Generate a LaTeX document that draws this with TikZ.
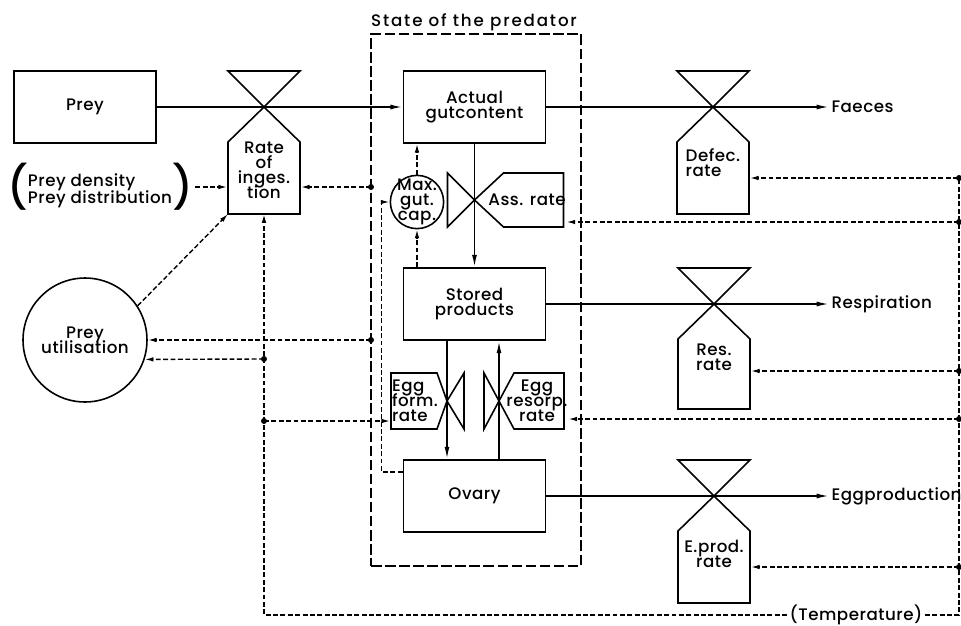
\documentclass[tikz,border=0pt]{standalone}
\usepackage{fontspec}
\IfFontExistsTF{Poppins Medium}{%
	\setmainfont{Poppins Medium}[LetterSpace=3]
	\newfontfamily\titlefont{Poppins Medium}[LetterSpace=11]
}{%
	\setmainfont{Poppins}[LetterSpace=3]
	\newfontfamily\titlefont{Poppins}[LetterSpace=11]
}
\newcommand{\diafont}{\fontsize{9.5}{8.5}\selectfont\lineskiplimit=-20pt\relax}
\newcommand{\bigparen}[1]{\raisebox{-4.5pt}{\fontsize{24}{24}\selectfont#1}}
\usetikzlibrary{
	arrows.meta,
	positioning
}

\begin{document}
\begin{tikzpicture}[
				x=0.02cm, y=-0.02cm,
				line width=0.9pt,
				txt/.style={
					font=\diafont
				},
				box/.style={
					rectangle, draw,
					minimum width=2.84cm, minimum height=1.44cm,
					align=center, txt
				},
				ratetxt/.style={
					align=center, inner sep=0pt, txt
				},
				outtxt/.style={
					anchor=west, inner sep=1pt, txt
				},
				statebox/.style={
					rectangle, draw, dash pattern=on 6pt off 2pt, line width=0.7pt,
					minimum width=4.2cm, minimum height=10.64cm
				},
				flow/.style={-{Latex[length=7pt, width=2.8pt]}},
				info/.style={dash pattern=on 2.8pt off 1.4pt, line width=0.8pt},
				infoarrow/.style={info, -{Latex[length=5pt, width=2.6pt]}},
				]
				\useasboundingbox (0,0) rectangle (961,626);
				
				%state of the predator
				\node[statebox] (state) at (476,300) {};
				\node[txt] (title) at (474,22) {\titlefont State of the predator};
				
				%state variables
				\node[box] (prey) at (85,107) {Prey};
				\node[box] (gut) at (474.5,107) {Actual\\gutcontent};
				\node[box] (stored) at (474.5,304) {Stored\\products};
				\node[box] (ovary) at (474.5,496) {Ovary};
				
				%valves
				\coordinate (vIng) at (264,107);
				\coordinate (vDef) at (713,107);
				\coordinate (vAss) at (474.5,200);
				\coordinate (vResp) at (714,304);
				\coordinate (vForm) at (447,401);
				\coordinate (vResorp) at (499,401);
				\coordinate (vEgg) at (714,496);
				
				\draw (vIng) -- ++(-36,-36) -- ++(72,0) -- cycle;
				\draw (vIng) -- ++(36,35) -- ++(0,72) -- ++(-72,0) -- ++(0,-72) -- cycle;
				\draw (vDef) -- ++(-36,-36) -- ++(72,0) -- cycle;
				\draw (vDef) -- ++(36,35) -- ++(0,72) -- ++(-72,0) -- ++(0,-72) -- cycle;
				\draw (vResp) -- ++(-36,-36) -- ++(72,0) -- cycle;
				\draw (vResp) -- ++(36,35) -- ++(0,70) -- ++(-72,0) -- ++(0,-70) -- cycle;
				\draw (vEgg) -- ++(-36,-36) -- ++(72,0) -- cycle;
				\draw (vEgg) -- ++(36,35) -- ++(0,72) -- ++(-72,0) -- ++(0,-72) -- cycle;
				
				\draw (vAss) -- ++(-27,-27) -- ++(0,54) -- cycle;
				\draw (vAss) -- ++(29,-27) -- ++(60,0) -- ++(0,54) -- ++(-60,0) -- cycle;
				\draw (vForm) -- ++(17,-28) -- ++(0,56) -- cycle;
				\draw (vForm) -- ++(-10,-28) -- ++(-46,0) -- ++(0,56) -- ++(46,0) -- cycle;
				\draw (vResorp) -- ++(-15,-28) -- ++(0,56) -- cycle;
				\draw (vResorp) -- ++(15,-28) -- ++(50,0) -- ++(0,56) -- ++(-50,0) -- cycle;
				
				%rates
				\node[ratetxt, minimum width=1.44cm] (ing) at (264,170) {Rate\\of\\inges.\\tion};
				\node[ratetxt, minimum width=1.44cm, align=left] (def) at (713,163) {Defec.\\rate};
				\node[ratetxt, minimum width=1.44cm] (res) at (714,357) {Res.\\rate};
				\node[ratetxt, minimum width=1.44cm] (eprod) at (714,554) {E.prod.\\rate};
				\node[ratetxt, minimum width=1.48cm] (ass) at (527,200) {Ass. rate};
				\node[ratetxt, minimum width=0.96cm, align=left] (form) at (415,401) {Egg\\form.\\rate};
				\node[ratetxt, minimum width=1.08cm] (resorp) at (537,401) {Egg\\resorp.\\rate};
				
				%auxiliaries
				\node[circle, draw, txt, align=center, minimum size=2.48cm, inner sep=0pt] (util) at (85,340) {Prey\\utilisation};
				\node[circle, draw, txt, align=center, minimum size=1.04cm, inner sep=-1.5pt] (maxgut) at (417,202) {Max.\\gut.\\cap.};
				\node[txt, inner sep=1pt] (dens) at (100,187) {\bigparen{(}$\vcenter{\baselineskip=9.6pt\lineskiplimit=-20pt\hbox{Prey density}\hbox{Prey distribution}}$\bigparen{)}};
				
				%outputs
				\node[outtxt] (faeces) at (829,107) {Faeces};
				\node[outtxt] (resp) at (829,304) {Respiration};
				\node[outtxt] (eggprod) at (829,496) {Eggproduction};
				\node[txt, inner sep=1pt] (temp) at (856,615) {(Temperature)};
				
				%material flows
				\draw[flow] (prey) -- (gut);
				\draw[flow] (gut) -- (faeces);
				\draw[flow] (stored) -- (resp);
				\draw[flow] (ovary) -- (eggprod);
				\draw[flow] (gut) -- (stored);
				\draw[flow] (stored.south -| vForm) -- (ovary.north -| vForm);
				\draw[flow] (ovary.north -| vResorp) -- (stored.south -| vResorp);
				
				%information, right side
				\coordinate (rDef) at (959,178);
				\coordinate (rAss) at (959,222);
				\coordinate (rRes) at (959,371);
				\coordinate (rResorp) at (959,419);
				\coordinate (rEgg) at (959,567);
				\draw[infoarrow] (temp) -- (temp -| rDef) -- (rDef) -- (def.east |- rDef);
				\draw[infoarrow] (rAss) -- (ass.east |- rAss);
				\draw[infoarrow] (rRes) -- (res.east |- rRes);
				\draw[infoarrow] (rResorp) -- (resorp.east |- rResorp);
				\draw[infoarrow] (rEgg) -- (eprod.east |- rEgg);
				
				%information, left side
				\coordinate (ingB) at (264,214);
				\coordinate (ingBL) at (228,214);
				\coordinate (lUtil) at (264,359);
				\coordinate (lForm) at (264,421);
				\coordinate (sIng) at (371,187);
				\coordinate (sUtil) at (371,340);
				\draw[infoarrow] (temp) -- (temp -| ingB) -- (ingB);
				\draw[infoarrow] (lUtil) -- (util.-18);
				\draw[infoarrow] (lForm) -- (form.west |- lForm);
				\draw[infoarrow] (sIng) -- (ing.east |- sIng);
				\draw[infoarrow] (dens) -- (ing.west |- dens);
				\draw[infoarrow] (sUtil) -- (util.east);
				\draw[infoarrow] (util.33) -- (ingBL);
				\draw[infoarrow] (maxgut) -- (gut.south -| maxgut);
				\draw[infoarrow] (stored.north -| maxgut) -- (maxgut);
				\draw[infoarrow] ([yshift=0.48cm]ovary.west) -- ++(-21,0) |- (maxgut.west);
				
				%branch points
				\foreach \p in {rDef, rAss, rRes, rResorp, rEgg, lUtil, lForm, sIng, sUtil}
					\fill (\p) circle (1.7pt);
			\end{tikzpicture}
\end{document}
